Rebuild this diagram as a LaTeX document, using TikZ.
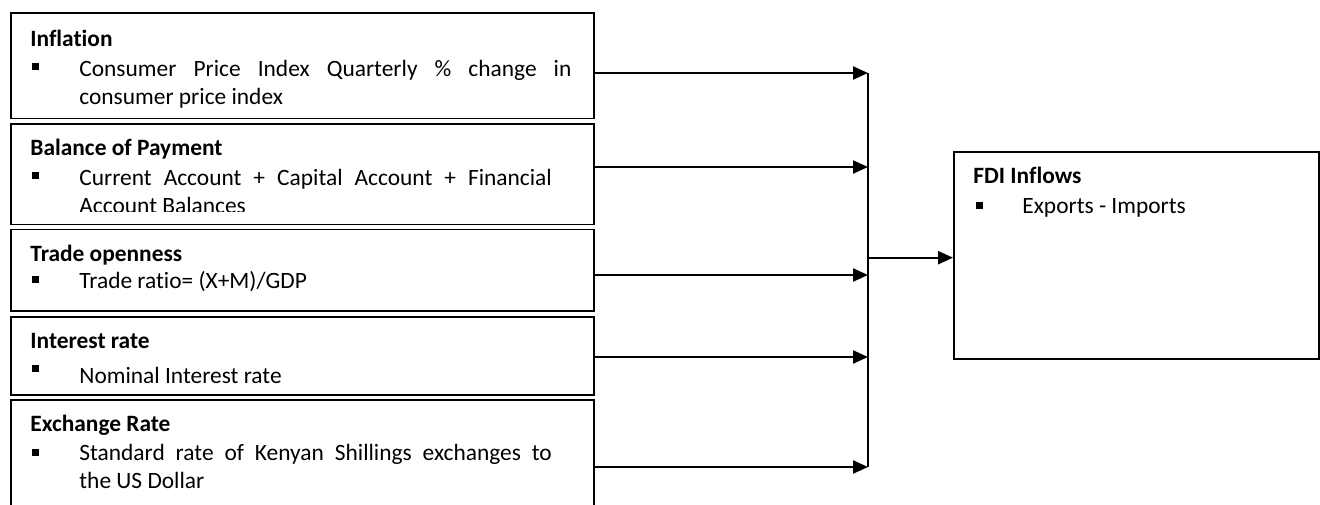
\documentclass[tikz,border=0pt]{standalone}
\usepackage{fontspec}
\setmainfont{Carlito}[Ligatures=NoCommon]
\usetikzlibrary{arrows.meta}

\tikzset{
  factor/.style={draw,line width=0.9pt,inner sep=0pt,anchor=north west,minimum width=291.35pt},
  head/.style={anchor=base west,inner sep=0pt,font=\fontsize{11.7}{14}\selectfont\bfseries},
  body/.style={anchor=base west,inner sep=0pt,font=\fontsize{11.7}{14}\selectfont,align=justify,text width=236.25pt},
  flow/.style={line width=1.1pt,-{Triangle[length=7.5pt,width=6.5pt]}},
  bus/.style={line width=1.1pt},
}
% small square bullet, given by its top left corner
\newcommand{\sqbullet}[1]{\fill #1 rectangle ++(6.7,7);}

\begin{document}
\begin{tikzpicture}[x=0.5pt,y=-0.5pt]
\clip (0,0) rectangle (1320,504);

% determinants
\node[factor,minimum height=52.6pt] (infl) at (10,12.3) {};
\node[factor,minimum height=50.4pt] (bop) at (10,122.7) {};
\node[factor,minimum height=40.6pt] (trade) at (10,228.5) {};
\node[factor,minimum height=39.15pt] (rate) at (10,315.7) {};
\node[factor,minimum height=60.6pt] (exch) at (10,398.7) {};

% dependent variable
\node[factor,minimum width=182.5pt,minimum height=103.65pt] (fdi) at (953,150.7) {};

\node[head] (infl-h) at (30,46) {Inflation};
\sqbullet{(32,63.3)}
\node[body,text width=246pt] (infl-t) at (79,76) {Consumer Price Index Quarterly \% change in\linebreak consumer price index};

\node[head] (bop-h) at (30,155) {Balance of Payment};
\sqbullet{(32,172)}
\begin{scope}
\clip (10,122.7) rectangle (592.7,211.5);
\node[body] (bop-t) at (79,185) {Current Account + Capital Account + Financial\linebreak Account Balances};
\end{scope}

\node[head] (trade-h) at (30,261) {Trade openness};
\sqbullet{(32,276)}
\node[body] (trade-t) at (79,288) {Trade ratio= (X+M)/GDP};

\node[head] (rate-h) at (30,348) {Interest rate};
\sqbullet{(32,365)}
\node[body] (rate-t) at (79,383) {Nominal Interest rate};

\node[head] (exch-h) at (30,431.5) {Exchange Rate};
\sqbullet{(32,449)}
\node[body] (exch-t) at (79,460) {Standard rate of Kenyan Shillings exchanges to\linebreak the US Dollar};

\node[head] (fdi-h) at (973,183.3) {FDI Inflows};
\sqbullet{(976,202)}
\node[body] (fdi-t) at (1022,213) {Exports - Imports};

% joints on the collecting line
\coordinate (j1) at (868,73);
\coordinate (j2) at (868,167);
\coordinate (j3) at (868,275);
\coordinate (j4) at (868,357);
\coordinate (j5) at (868,467);
\coordinate (hub) at (868,257.7);

\draw[flow] (infl.east |- j1) -- (j1);
\draw[flow] (bop.east |- j2) -- (j2);
\draw[flow] (trade.east |- j3) -- (j3);
\draw[flow] (rate.east |- j4) -- (j4);
\draw[flow] (exch.east |- j5) -- (j5);
\draw[bus] (j1) -- (j5);
\draw[flow] (hub) -- (hub -| fdi.west);

\end{tikzpicture}
\end{document}
